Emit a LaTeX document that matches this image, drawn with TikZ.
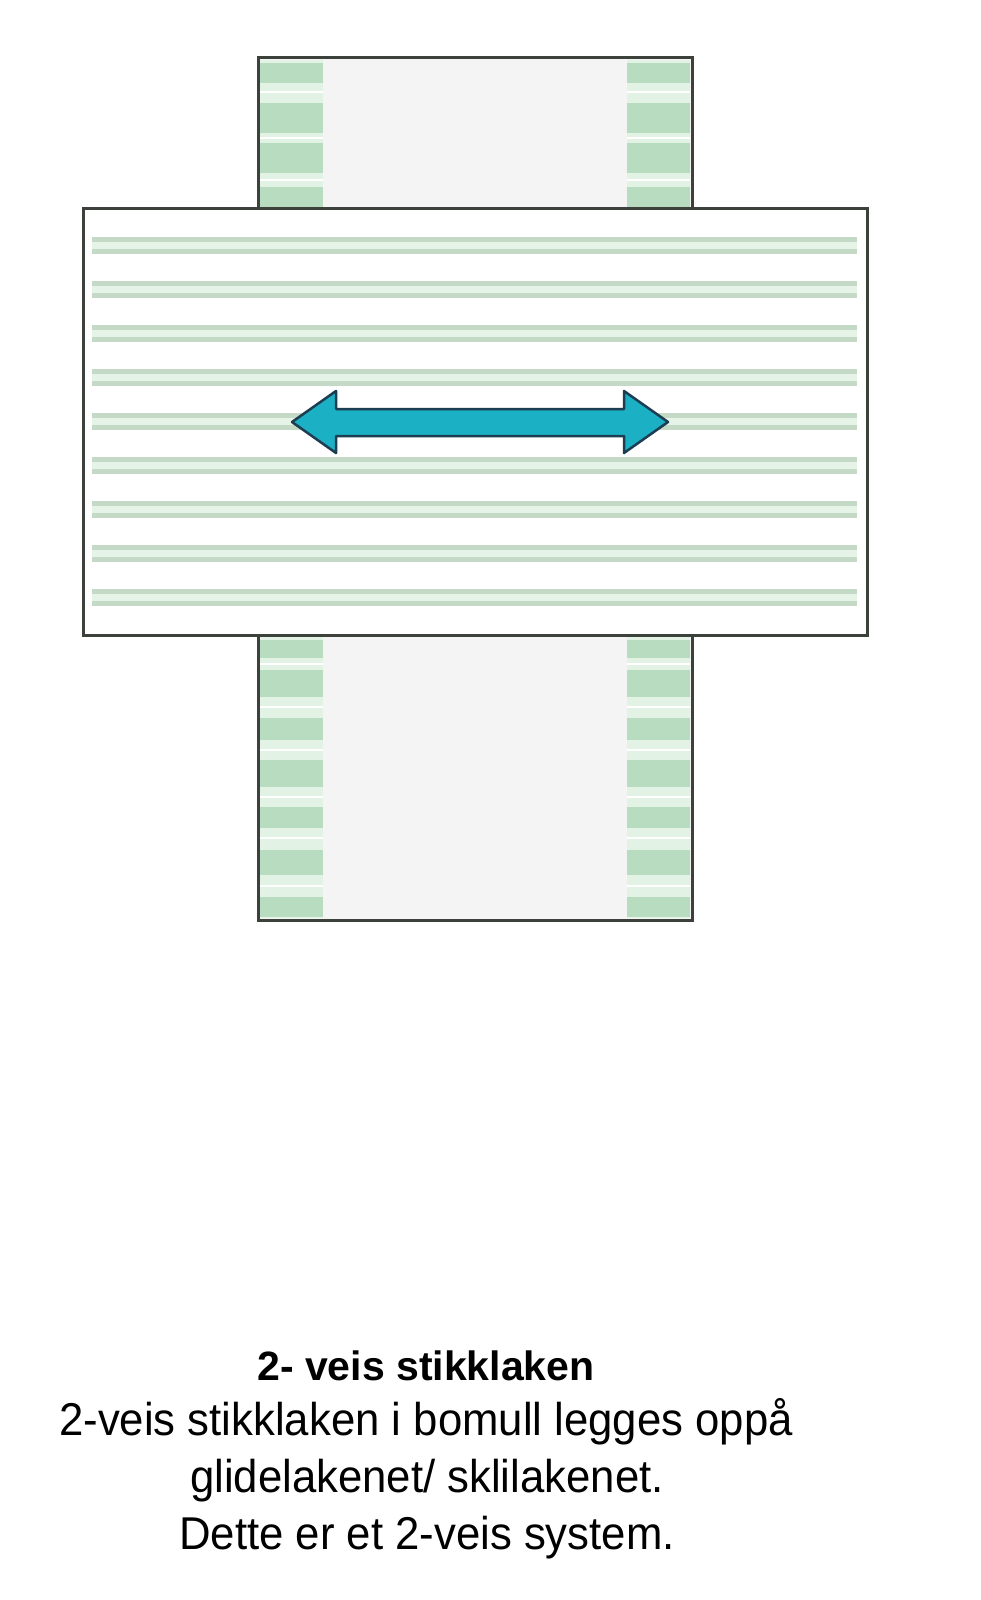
\documentclass[tikz,border=0pt]{standalone}
\usepackage{fontspec}
\setmainfont{Liberation Sans}
\newfontfamily\bodyfont{Liberation Sans}[FakeStretch=0.95]
\definecolor{frame}{HTML}{3C413C}
\definecolor{midgray}{HTML}{F4F4F4}
\definecolor{bandlight}{HTML}{E2F3E5}
\definecolor{bandblock}{HTML}{B8DCBF}
\definecolor{stripedark}{HTML}{C4DAC6}
\definecolor{stripelight}{HTML}{E6F4E8}
\definecolor{arrowfill}{HTML}{1CB0C4}
\definecolor{arrowline}{HTML}{1D3E52}
\tikzset{
  frameline/.style={draw=frame, line width=3pt},
  bandbg/.style={fill=bandlight},
  bandblk/.style={fill=bandblock},
  whiteline/.style={draw=white, line width=2pt},
  titletext/.style={font=\fontsize{41}{49}\selectfont\bfseries, anchor=base, inner sep=0pt},
  bodytext/.style={font=\bodyfont\fontsize{46}{55}\selectfont, anchor=base, inner sep=0pt}
}
\begin{document}
\begin{tikzpicture}[x=1pt,y=-1pt]
\useasboundingbox (0,0) rectangle (981,1600);
\fill[white] (0,0) rectangle (981,1600);

% ---------- top strip ----------
\fill[midgray] (258,58) rectangle (692,208);
\fill[bandbg] (260,60) rectangle (323,208);
\fill[bandbg] (627,60) rectangle (690,208);
\foreach \a/\b in {63/83, 103/133, 143/173, 187/207}{
  \fill[bandblk] (260,\a) rectangle (323,\b);
  \fill[bandblk] (627,\a) rectangle (690,\b);
}
\foreach \y in {92, 138, 180}{
  \draw[whiteline] (260,\y) -- (323,\y);
  \draw[whiteline] (627,\y) -- (690,\y);
}
\draw[frameline] (258,208) -- (258,58) -- (692,58) -- (692,208);

% ---------- bottom strip ----------
\fill[midgray] (258,635) rectangle (692,920);
\fill[bandbg] (260,635) rectangle (323,918);
\fill[bandbg] (627,635) rectangle (690,918);
\foreach \a/\b in {640/658, 670/697, 718/740, 760/787, 807/828, 850/875, 897/917}{
  \fill[bandblk] (260,\a) rectangle (323,\b);
  \fill[bandblk] (627,\a) rectangle (690,\b);
}
\foreach \y in {664, 707, 750, 797, 838, 886}{
  \draw[whiteline] (260,\y) -- (323,\y);
  \draw[whiteline] (627,\y) -- (690,\y);
}
\draw[frameline] (258,635) -- (258,920) -- (692,920) -- (692,635);

% ---------- big sheet ----------
\fill[white] (83,208) rectangle (867,635);
\foreach \k in {0,...,8}{
  \pgfmathsetmacro{\c}{246+44*\k}
  \fill[stripedark] (92,\c-9) rectangle (857,\c-4);
  \fill[stripelight] (92,\c-4) rectangle (857,\c+3);
  \fill[stripedark] (92,\c+3) rectangle (857,\c+8);
}
\draw[frameline] (83,208) rectangle (867,635);

% ---------- double arrow ----------
\coordinate (tipL) at (292,422);
\coordinate (tipR) at (668,422);
\filldraw[fill=arrowfill, draw=arrowline, line width=2.5pt, line join=round]
  (tipL) -- (336,391) -- (336,409) -- (624,409) -- (624,391) -- (tipR)
  -- (624,453) -- (624,436) -- (336,436) -- (336,453) -- cycle;

% ---------- text ----------
\node[titletext] (title) at (426,1380) {2- veis stikklaken};
\node[bodytext] (l1) at (426,1435) {2-veis stikklaken i bomull legges oppå};
\node[bodytext] (l2) at (427,1492) {glidelakenet/ sklilakenet.};
\node[bodytext] (l3) at (427,1549) {Dette er et 2-veis system.};
\end{tikzpicture}
\end{document}
